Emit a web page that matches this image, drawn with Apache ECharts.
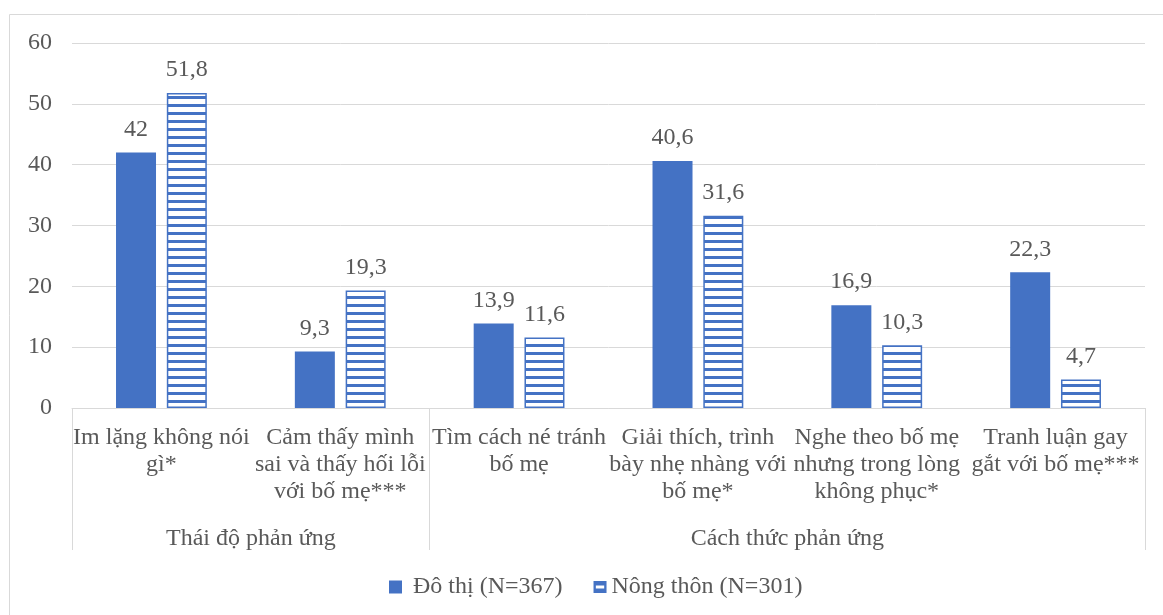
<!DOCTYPE html>
<html>
<head>
<meta charset="utf-8">
<script src="https://cdn.jsdelivr.net/npm/echarts@6/dist/echarts.min.js"></script>
<style>
  html, body { margin: 0; padding: 0; background: #fff; }
  #chart { width: 1163px; height: 615px; }
</style>
</head>
<body>
<div id="chart"></div>
<script>
// Response categories (line breaks as they wrap under each bar pair)
const categories = [
  'Im lặng không nói\ngì*',
  'Cảm thấy mình\nsai và thấy hối lỗi\nvới bố mẹ***',
  'Tìm cách né tránh\nbố mẹ',
  'Giải thích, trình\nbày nhẹ nhàng với\nbố mẹ*',
  'Nghe theo bố mẹ\nnhưng trong lòng\nkhông phục*',
  'Tranh luận gay\ngắt với bố mẹ***'
];
// Outer grouping of the categories and how many each group spans
const groups = ['Thái độ phản ứng', 'Cách thức phản ứng'];
const groupSizes = [2, 4];

const seriesNames = ['Đô thị (N=367)', 'Nông thôn (N=301)'];
const urban = [42, 9.3, 13.9, 40.6, 16.9, 22.3];
const rural = [51.8, 19.3, 11.6, 31.6, 10.3, 4.7];

const BLUE = '#4472C4';
const TEXT = '#595959';
const LINE = '#d9d9d9';
const FONT = '"Liberation Serif", "Times New Roman", serif';

// Horizontal stripe fill for the rural bars
function stripeCanvas() {
  const c = document.createElement('canvas');
  c.width = 8; c.height = 8;
  const ctx = c.getContext('2d');
  ctx.fillStyle = '#ffffff';
  ctx.fillRect(0, 0, 8, 8);
  ctx.fillStyle = BLUE;
  ctx.fillRect(0, 0, 8, 3);
  return c;
}
const stripes = { image: stripeCanvas(), repeat: 'repeat' };

// Legend swatch for the striped series: blue square with a white band across the middle
const stripedSwatch = 'path://M0,0 L14,0 L14,13 L0,13 Z M2.5,5 L2.5,8 L11.5,8 L11.5,5 Z';

// Boundaries and centres of the outer groups, in category units
const groupBounds = [0];
groupSizes.forEach(n => groupBounds.push(groupBounds[groupBounds.length - 1] + n));
const groupCenters = groupSizes.map((n, i) => groupBounds[i] + n / 2);

const fmt = v => String(v).replace('.', ',');

const chart = echarts.init(document.getElementById('chart'));
chart.setOption({
  animation: false,
  textStyle: { fontFamily: FONT },
  graphic: [{
    type: 'rect',
    shape: { x: 9.5, y: 14.5, width: 1165, height: 620 },
    style: { fill: 'none', stroke: LINE, lineWidth: 1 },
    silent: true
  }],
  grid: { left: 72, right: 18, top: 43, bottom: 207, containLabel: false },
  legend: {
    bottom: 11,
    left: 384,
    itemWidth: 13,
    itemHeight: 13,
    itemGap: 31,
    textStyle: { fontFamily: FONT, fontSize: 24, color: TEXT },
    data: [
      { name: seriesNames[0], icon: 'rect', textStyle: { padding: [0, 0, 0, 6] } },
      { name: seriesNames[1], icon: stripedSwatch, itemStyle: { color: BLUE, borderWidth: 0 } }
    ]
  },
  xAxis: [{
    type: 'category',
    data: categories,
    axisLine: { lineStyle: { color: LINE, width: 1 } },
    axisTick: { show: false },
    axisLabel: {
      interval: 0,
      margin: 16,
      fontFamily: FONT,
      fontSize: 24,
      lineHeight: 27,
      color: TEXT,
      align: 'center'
    }
  }, {
    type: 'value',
    min: 0,
    max: categories.length,
    position: 'bottom',
    axisLine: { show: false },
    splitLine: { show: false },
    axisTick: {
      show: true,
      customValues: groupBounds,
      length: 142,
      lineStyle: { color: LINE, width: 1 }
    },
    axisLabel: {
      customValues: groupCenters,
      margin: 119,
      fontFamily: FONT,
      fontSize: 24,
      color: TEXT,
      formatter: v => {
        const i = groupCenters.indexOf(v);
        return i >= 0 ? groups[i] : '';
      }
    }
  }],
  yAxis: {
    type: 'value',
    min: 0,
    max: 60,
    interval: 10,
    axisLine: { show: false },
    axisTick: { show: false },
    splitLine: { lineStyle: { color: LINE, width: 1 } },
    axisLabel: { margin: 20, fontFamily: FONT, fontSize: 24, color: TEXT }
  },
  series: [{
    name: seriesNames[0],
    type: 'bar',
    data: urban,
    barWidth: 40,
    barGap: '27%',
    itemStyle: { color: BLUE },
    label: {
      show: true, position: 'top', distance: 11,
      fontFamily: FONT, fontSize: 24, color: TEXT,
      formatter: p => fmt(p.value)
    }
  }, {
    name: seriesNames[1],
    type: 'bar',
    data: rural,
    barWidth: 40,
    itemStyle: { color: stripes, borderColor: BLUE, borderWidth: 1.5 },
    label: {
      show: true, position: 'top', distance: 11,
      fontFamily: FONT, fontSize: 24, color: TEXT,
      formatter: p => fmt(p.value)
    }
  }]
});
</script>
</body>
</html>
